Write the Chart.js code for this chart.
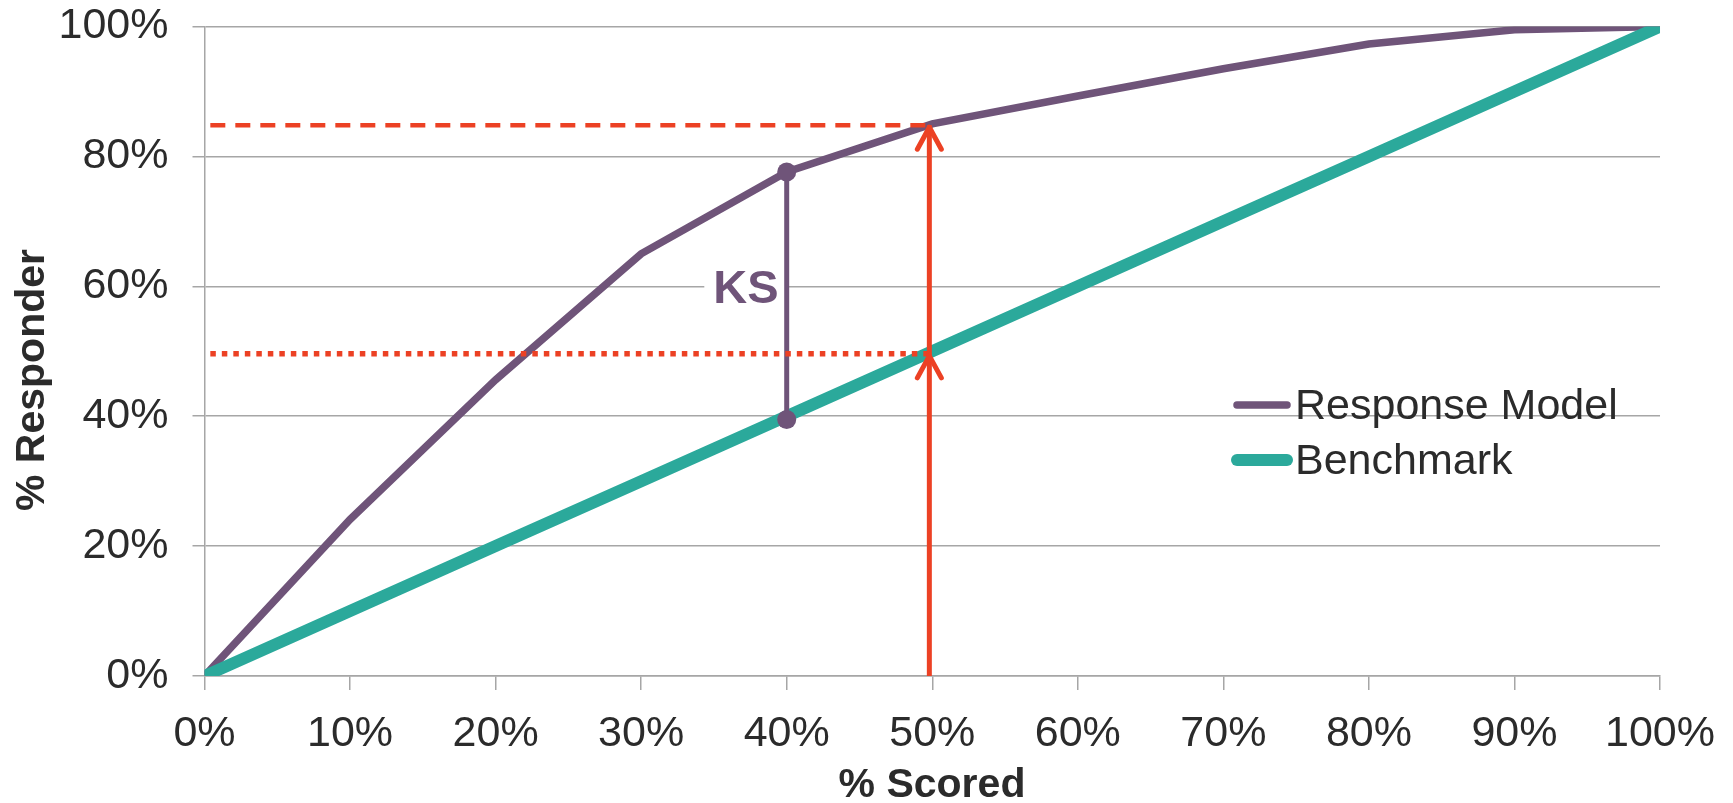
<!DOCTYPE html>
<html>
<head>
<meta charset="utf-8">
<script src="https://cdn.jsdelivr.net/npm/chart.js@4.4.1/dist/chart.umd.min.js"></script>
<style>
  html, body { margin: 0; padding: 0; background: #fff; }
  #wrap { width: 1733px; height: 803px; }
</style>
</head>
<body>
<div id="wrap"><canvas id="gainsChart"></canvas></div>
<script>
// values (percent)
const scored = [0, 10, 20, 30, 40, 50, 60, 70, 80, 90, 100];
const responseModel = [0, 24.1, 45.6, 65.0, 77.6, 85.0, 89.3, 93.5, 97.3, 99.5, 100];
const benchmark = [0, 10, 20, 30, 40, 50, 60, 70, 80, 90, 100];

// KS marker
const ksX = 40;
const ksTop = 77.6;
const ksBottom = 39.5;
const ksLabelPos = [37.2, 59.8];

// 50% cut-off guides
const cutX = 49.8;
const cutStart = 0.4;
const cutModel = 84.8;
const cutBench = 49.6;

const seriesNames = ["Response Model", "Benchmark"];

const purple = "#6F5479";
const teal = "#2BA99B";
const red = "#EC4124";
const gridGray = "#A6A6A6";
const textColor = "#2b2b2b";
const fontFamily = "'Liberation Sans', Arial, sans-serif";

function pts(xs, ys) {
  return xs.map(function (x, i) { return { x: x, y: ys[i] }; });
}

const extras = {
  id: "extras",
  beforeDatasetsDraw(chart) {
    const ctx = chart.ctx;
    const xs = chart.scales.x, ys = chart.scales.y;
    // KS label with white box over the grid line
    const px = xs.getPixelForValue(ksLabelPos[0]);
    const py = ys.getPixelForValue(ksLabelPos[1]);
    ctx.save();
    ctx.font = "bold 47px " + fontFamily;
    const w = ctx.measureText("KS").width;
    ctx.fillStyle = "#fff";
    ctx.fillRect(px - w / 2 - 9, py - 22, w + 18, 44);
    ctx.fillStyle = purple;
    ctx.textAlign = "center";
    ctx.textBaseline = "middle";
    ctx.fillText("KS", px, py + 2);
    ctx.restore();
  },
  afterDatasetsDraw(chart) {
    const ctx = chart.ctx;
    const xs = chart.scales.x, ys = chart.scales.y;
    // arrow heads on the cut-off line
    ctx.save();
    ctx.strokeStyle = red;
    ctx.lineWidth = 5;
    ctx.lineCap = "round";
    ctx.lineJoin = "round";
    [cutModel, cutBench].forEach(function (v) {
      const x = xs.getPixelForValue(cutX);
      const y = ys.getPixelForValue(v);
      ctx.beginPath();
      ctx.moveTo(x - 12, y + 24);
      ctx.lineTo(x, y + 2);
      ctx.lineTo(x + 12, y + 24);
      ctx.stroke();
    });
    ctx.restore();
  },
  afterDraw(chart) {
    const ctx = chart.ctx;
    ctx.save();
    // axis titles
    ctx.fillStyle = textColor;
    ctx.font = "bold 41px " + fontFamily;
    ctx.textAlign = "center";
    ctx.textBaseline = "middle";
    ctx.fillText("% Scored", 932, 786);
    ctx.translate(33, 380);
    ctx.rotate(-Math.PI / 2);
    ctx.fillText("% Responder", 0, 0);
    ctx.restore();

    // legend
    ctx.save();
    const lx = 1237, ly = [405, 460];
    const widths = [7.5, 12];
    const colors = [purple, teal];
    ctx.lineCap = "round";
    ctx.font = "43px " + fontFamily;
    ctx.textBaseline = "middle";
    ctx.textAlign = "left";
    seriesNames.forEach(function (name, i) {
      ctx.strokeStyle = colors[i];
      ctx.lineWidth = widths[i];
      ctx.beginPath();
      ctx.moveTo(lx, ly[i]);
      ctx.lineTo(lx + 50, ly[i]);
      ctx.stroke();
      ctx.fillStyle = textColor;
      ctx.fillText(name, 1295, ly[i] + 2);
    });
    ctx.restore();
  }
};

const config = {
  type: "line",
  data: {
    datasets: [
      {
        label: seriesNames[0],
        data: pts(scored, responseModel),
        borderColor: purple,
        borderWidth: 7.5,
        pointRadius: 0,
        tension: 0,
        clip: 0,
        order: 5
      },
      {
        label: seriesNames[1],
        data: pts(scored, benchmark),
        borderColor: teal,
        borderWidth: 12,
        pointRadius: 0,
        tension: 0,
        clip: 0,
        order: 4
      },
      {
        label: "KS",
        data: [{ x: ksX, y: ksTop }, { x: ksX, y: ksBottom }],
        borderColor: purple,
        backgroundColor: purple,
        borderWidth: 5,
        pointRadius: 9.5,
        pointBorderWidth: 0,
        pointBackgroundColor: purple,
        order: 3
      },
      {
        label: "model cut",
        data: [{ x: cutStart, y: cutModel }, { x: cutX, y: cutModel }],
        borderColor: red,
        borderWidth: 4.5,
        borderDash: [15, 10],
        pointRadius: 0,
        order: 2
      },
      {
        label: "benchmark cut",
        data: [{ x: cutStart, y: cutBench }, { x: cutX, y: cutBench }],
        borderColor: red,
        borderWidth: 5.5,
        borderDash: [5.5, 6],
        pointRadius: 0,
        order: 1
      },
      {
        label: "cut arrow",
        data: [{ x: cutX, y: 0 }, { x: cutX, y: cutModel }],
        borderColor: red,
        borderWidth: 5,
        pointRadius: 0,
        clip: 0,
        order: 0
      }
    ]
  },
  options: {
    responsive: true,
    maintainAspectRatio: false,
    animation: false,
    layout: { padding: { top: 0, right: 72, left: 0, bottom: 0 } },
    plugins: {
      legend: { display: false },
      tooltip: { enabled: false },
      title: { display: false }
    },
    scales: {
      x: {
        type: "linear",
        min: 0,
        max: 100,
        afterFit: function (s) { s.height = 127; },
        ticks: {
          stepSize: 10,
          padding: 18,
          color: textColor,
          font: { family: fontFamily, size: 43 },
          callback: function (v) { return v + "%"; }
        },
        grid: {
          drawOnChartArea: false,
          drawTicks: true,
          tickLength: 14,
          color: gridGray,
          lineWidth: 1.5
        },
        border: { color: gridGray, width: 1.5 }
      },
      y: {
        min: 0,
        max: 100,
        afterFit: function (s) {
          s.width = 204.5;
          s.paddingTop = 26.5;
          s.paddingBottom = 0;
        },
        ticks: {
          stepSize: 20,
          padding: 24,
          color: textColor,
          font: { family: fontFamily, size: 43 },
          callback: function (v) { return v + "%"; }
        },
        grid: {
          drawTicks: true,
          tickLength: 12,
          color: gridGray,
          lineWidth: 1.5
        },
        border: { color: gridGray, width: 1.5 }
      }
    }
  },
  plugins: [extras]
};

new Chart(document.getElementById("gainsChart"), config);
</script>
</body>
</html>
